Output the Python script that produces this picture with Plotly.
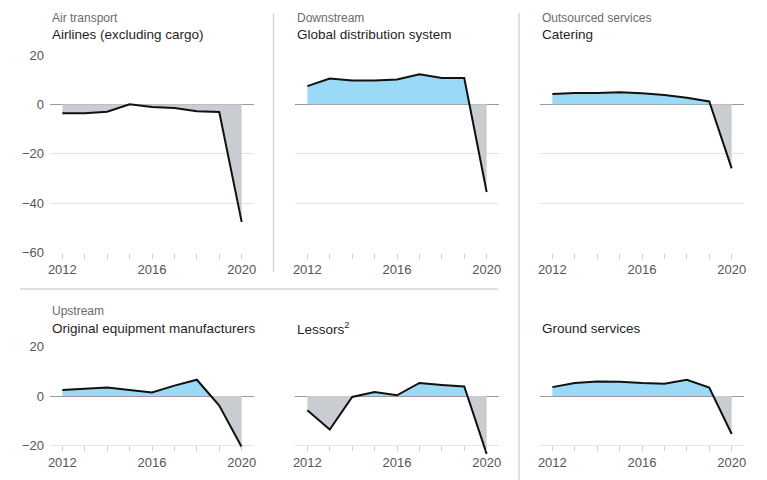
import plotly.graph_objects as go

# ---------------- data ----------------
years = [2012, 2013, 2014, 2015, 2016, 2017, 2018, 2019, 2020]
labelled_years = [2012, 2016, 2020]
year_labels = ["2012", "2016", "2020"]

airlines = [-3.6, -3.6, -3.0, 0.0, -1.1, -1.5, -2.8, -3.1, -47.6]
gds = [7.4, 10.5, 9.7, 9.7, 10.1, 12.2, 10.7, 10.7, -35.5]
catering = [4.2, 4.6, 4.6, 4.9, 4.5, 3.8, 2.7, 1.2, -25.9]
oem = [2.4, 2.8, 3.4, 2.4, 1.4, 4.2, 6.6, -3.9, -20.7]
lessors = [-5.8, -13.6, -0.4, 1.6, 0.3, 5.3, 4.5, 3.9, -23.5]
ground = [3.6, 5.3, 5.9, 5.8, 5.3, 5.0, 6.6, 3.4, -15.4]

subtitles = ["Air transport", "Downstream", "Outsourced services", "Upstream", "", ""]
titles = ["Airlines (excluding cargo)", "Global distribution system", "Catering",
          "Original equipment manufacturers", "Lessors<sup>2</sup>", "Ground services"]
series = [airlines, gds, catering, oem, lessors, ground]

top_ticks = [20, 0, -20, -40, -60]
top_ticktext = ["20", "0", "\u221220", "\u221240", "\u221260"]
bot_ticks = [20, 0, -20]
bot_ticktext = ["20", "0", "\u221220"]

# ---------------- style ----------------
W, H = 767, 480
BLUE = "#9bdaf6"
GREY = "#c9cdd1"
LINE = "#111111"
GRID = "#e4e4e4"
ZERO = "#9a9a9a"
SEP = "#d6d6d6"
FONT = "Liberation Sans, Arial, sans-serif"

col_px = [(50, 254), (295, 499), (540, 744)]
top_row = dict(top=55, bottom=252.5, rng=[-60, 20], ticks=top_ticks, text=top_ticktext,
               sub_y=18, title_y=35)
bpx_per_unit = (445.3 - 346.7) / 40.0
bot_min = -24
bot_row = dict(top=346.7, bottom=445.3 + (-20 - bot_min) * bpx_per_unit, rng=[bot_min, 20],
               ticks=bot_ticks, text=bot_ticktext, sub_y=311, title_y=328)
x_range = [2011.45, 2020.55]


def px_x(p):
    return p / W


def px_y(p):
    return 1 - p / H


def split_at_zero(xs, ys):
    ox, oy = [xs[0]], [ys[0]]
    for i in range(1, len(xs)):
        y0, y1 = ys[i - 1], ys[i]
        if y0 * y1 < 0:
            t = y0 / (y0 - y1)
            ox.append(xs[i - 1] + t * (xs[i] - xs[i - 1]))
            oy.append(0.0)
        ox.append(xs[i])
        oy.append(ys[i])
    return ox, oy


fig = go.Figure()
layout = dict(
    template="none",
    width=W, height=H, margin=dict(l=0, r=0, t=0, b=0, autoexpand=False),
    paper_bgcolor="white", plot_bgcolor="white", showlegend=False,
    font=dict(family=FONT, color="#555555"),
)
annotations = []

for k in range(6):
    idx = k + 1
    row = top_row if k < 3 else bot_row
    col = k % 3
    xname = "x" if idx == 1 else f"x{idx}"
    yname = "y" if idx == 1 else f"y{idx}"
    vals = series[k]

    ex, ey = split_at_zero(years, vals)
    fig.add_trace(go.Scatter(x=ex, y=[max(v, 0) for v in ey], mode="lines", fill="tozeroy",
                             fillcolor=BLUE, line=dict(width=0), hoverinfo="skip",
                             xaxis=xname, yaxis=yname))
    fig.add_trace(go.Scatter(x=ex, y=[min(v, 0) for v in ey], mode="lines", fill="tozeroy",
                             fillcolor=GREY, line=dict(width=0), hoverinfo="skip",
                             xaxis=xname, yaxis=yname))
    fig.add_trace(go.Scatter(x=years, y=vals, mode="lines", line=dict(color=LINE, width=2),
                             xaxis=xname, yaxis=yname))

    x0, x1 = col_px[col]
    xa = dict(domain=[px_x(x0), px_x(x1)], range=x_range, tickmode="array",
              tickvals=labelled_years, ticktext=year_labels, ticks="outside", ticklen=5,
              tickcolor="#cfcfcf", tickwidth=1,
              minor=dict(tickmode="array", tickvals=years, ticks="outside", ticklen=5,
                         tickcolor="#cfcfcf", tickwidth=1, showgrid=False),
              showgrid=False, zeroline=False, showline=False, automargin=False,
              tickfont=dict(size=13, color="#555555", family=FONT), fixedrange=True)
    if k < 3:
        xa["anchor"] = yname
    else:
        xa["anchor"] = "free"
        xa["position"] = px_y(445.3)
    ya = dict(domain=[px_y(row["bottom"]), px_y(row["top"])], range=row["rng"],
              tickmode="array", tickvals=row["ticks"], ticktext=row["text"],
              showgrid=True, gridcolor=GRID, gridwidth=1,
              zeroline=True, zerolinecolor=ZERO, zerolinewidth=1, showline=False,
              showticklabels=(col == 0), ticks="", ticklabelstandoff=5, automargin=False,
              tickfont=dict(size=13, color="#555555", family=FONT),
              anchor=xname, fixedrange=True)
    layout["xaxis" if idx == 1 else f"xaxis{idx}"] = xa
    layout["yaxis" if idx == 1 else f"yaxis{idx}"] = ya

    if subtitles[k]:
        annotations.append(dict(text=subtitles[k], x=px_x(x0), y=px_y(row["sub_y"]),
                                xref="paper", yref="paper", xanchor="left", yanchor="middle",
                                showarrow=False, font=dict(size=12, color="#6b6b6b", family=FONT)))
    annotations.append(dict(text=titles[k], x=px_x(x0), y=px_y(row["title_y"]),
                            xref="paper", yref="paper", xanchor="left", yanchor="middle",
                            showarrow=False, font=dict(size=13.5, color="#1f1f1f", family=FONT)))

shapes = [
    dict(type="line", xref="paper", yref="paper", x0=px_x(273.5), x1=px_x(273.5),
         y0=px_y(13), y1=px_y(272), line=dict(color=SEP, width=1.5)),
    dict(type="line", xref="paper", yref="paper", x0=px_x(519), x1=px_x(519),
         y0=px_y(13), y1=px_y(480), line=dict(color=SEP, width=1.5)),
    dict(type="line", xref="paper", yref="paper", x0=px_x(20), x1=px_x(498),
         y0=px_y(289), y1=px_y(289), line=dict(color=SEP, width=1.5)),
]
layout["annotations"] = annotations
layout["shapes"] = shapes
fig.update_layout(**layout)

fig.write_html("out.html", config={"displayModeBar": False},
               post_script="document.body.style.margin='0';document.body.style.padding='0';")
